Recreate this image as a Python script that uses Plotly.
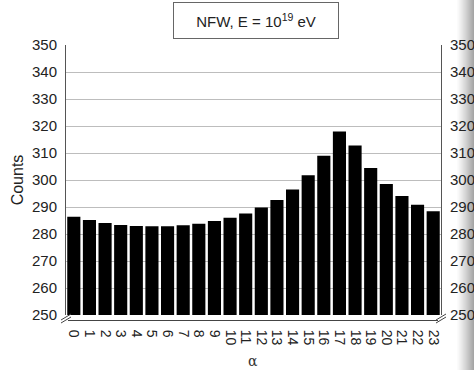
import plotly.graph_objects as go

alpha = list(range(24))
counts = [286.4, 285.2, 284.1, 283.3, 283.0, 282.9, 282.9, 283.2, 283.8, 284.8,
          286.0, 287.6, 289.8, 292.6, 296.5, 301.8, 309.0, 318.0, 312.8, 304.4,
          298.5, 294.1, 290.8, 288.4]
ytick_vals = list(range(250, 351, 10))

W, H = 474, 370
L, R, T, B = 66, 33, 45, 55
pw = W - L - R
ph = H - T - B

def px_x(p):
    return (p - L) / pw

def px_y(p):
    return 1 - (p - T) / ph

fig = go.Figure()
fig.add_trace(go.Bar(x=alpha, y=counts, marker=dict(color="black", line=dict(width=0)),
                     showlegend=False))
fig.add_trace(go.Scatter(x=alpha, y=counts, yaxis="y2", mode="markers",
                         marker=dict(opacity=0), showlegend=False, hoverinfo="skip"))

font = dict(family="Liberation Sans, Arial, sans-serif", size=15, color="#222")

shapes = []
# right gradient shadow
n = 17
for i in range(n):
    x0 = 457 + i
    g = int(255 - ((i + 1) / n) ** 1.2 * 90)
    shapes.append(dict(type="rect", xref="paper", yref="paper",
                       x0=px_x(x0), x1=px_x(x0 + 1), y0=px_y(H), y1=px_y(0),
                       fillcolor=f"rgb({g},{g},{g})", line=dict(width=0), layer="below"))
# bottom axis line below bars
shapes.append(dict(type="line", xref="paper", yref="paper",
                   x0=px_x(68), x1=px_x(438), y0=px_y(320.5), y1=px_y(320.5),
                   line=dict(color="#444", width=1)))
# break marks left and right
for cx in (66, 441):
    for dy in (0, 3):
        shapes.append(dict(type="line", xref="paper", yref="paper",
                           x0=px_x(cx - 5), x1=px_x(cx + 5),
                           y0=px_y(321 + dy - 1), y1=px_y(315 + dy - 1),
                           line=dict(color="#444", width=1)))

fig.update_layout(
    width=W, height=H,
    margin=dict(l=L, r=R, t=T, b=B),
    paper_bgcolor="white", plot_bgcolor="white",
    bargap=0.16,
    font=font,
    shapes=shapes,
    xaxis=dict(range=[-0.5, 23.5], tickmode="array", tickvals=alpha,
               ticktext=[str(a) for a in alpha], tickangle=90, automargin=False,
               ticks="outside", ticklen=11, tickcolor="rgba(0,0,0,0)",
               showline=False, showgrid=False, zeroline=False,
               tickfont=dict(size=14, color="#222")),
    yaxis=dict(range=[250, 350], tickmode="array", tickvals=ytick_vals, automargin=False,
               showline=True, linecolor="#555", linewidth=1, mirror=False,
               showgrid=True, gridcolor="#bdbdbd", gridwidth=1, zeroline=False,
               ticks="", ticklabelstandoff=5,
               title=dict(text="Counts", font=dict(size=16, color="#222"), standoff=4),
               tickfont=dict(size=15, color="#222")),
    yaxis2=dict(range=[250, 350], tickmode="array", tickvals=ytick_vals, automargin=False,
                overlaying="y", side="right", showline=True, linecolor="#555",
                linewidth=1, showgrid=False, zeroline=False, ticks="",
                ticklabelstandoff=5, tickfont=dict(size=15, color="#222")),
    annotations=[
        dict(text="NFW, E = 10<sup>19</sup> eV", xref="paper", yref="paper",
             x=px_x(256), y=px_y(20), xanchor="center", yanchor="middle",
             showarrow=False, font=dict(size=15, color="#222"),
             bordercolor="#666", borderwidth=1, borderpad=8,
             bgcolor="white", width=148),
        dict(text="α", xref="paper", yref="paper", x=px_x(253), y=px_y(361),
             xanchor="center", yanchor="middle", showarrow=False,
             font=dict(family="DejaVu Serif, serif", size=14, color="#333")),
    ],
)

fig.write_html("out.html")
